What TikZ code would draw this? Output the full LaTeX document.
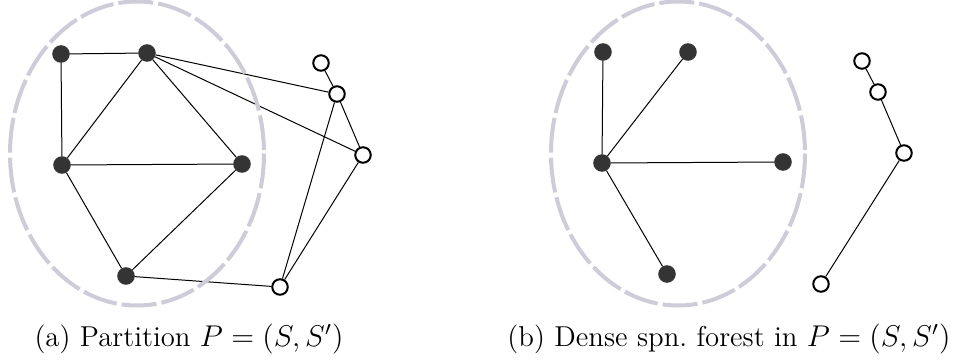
\documentclass[tikz,border=0pt]{standalone}
\usepackage{amssymb}
\usepackage{pgf, tikz}
\pgfdeclarelayer{edgelayer}
\pgfdeclarelayer{nodelayer}
\pgfsetlayers{edgelayer,nodelayer,main}
\definecolor{partgray}{RGB}{206,204,216}
\definecolor{dotgray}{RGB}{52,52,52}
\tikzstyle{edge}=[draw=black, line width=0.4pt]
\tikzstyle{vertex}=[circle, fill=dotgray, draw=dotgray, inner sep=0pt, minimum size=6.6pt]
\tikzstyle{open vertex}=[circle, fill=white, draw=black, line width=0.8pt, inner sep=0pt, minimum size=6.2pt]
\tikzstyle{part}=[draw=partgray, line width=1.6pt, dash pattern=on 14pt off 2pt]
\tikzstyle{caption}=[anchor=base, font=\fontsize{11.5}{14}\selectfont]

\begin{document}
\begin{tikzpicture}[x=0.4pt, y=-0.4pt]
				\useasboundingbox (0, 0) rectangle (961, 360);
				% partitions
				\draw [style=part] (137, 153.5) ellipse (127 and 152);
				\draw [style=part] (678, 153.5) ellipse (127 and 152);
				\begin{pgfonlayer}{nodelayer}
					% (a)
					\node [style=vertex] (1) at (61, 54) {};
					\node [style=vertex] (2) at (147, 53) {};
					\node [style=vertex] (3) at (62, 165) {};
					\node [style=vertex] (4) at (242, 164) {};
					\node [style=vertex] (5) at (126, 276) {};
					\node [style=open vertex] (6) at (321, 63) {};
					\node [style=open vertex] (7) at (337, 94) {};
					\node [style=open vertex] (8) at (363, 155) {};
					\node [style=open vertex] (9) at (280, 287) {};
					% (b)
					\node [style=vertex] (11) at (603, 52) {};
					\node [style=vertex] (12) at (688, 52) {};
					\node [style=vertex] (13) at (602, 163) {};
					\node [style=vertex] (14) at (783, 162) {};
					\node [style=vertex] (15) at (667, 274) {};
					\node [style=open vertex] (16) at (862, 61) {};
					\node [style=open vertex] (17) at (878, 92) {};
					\node [style=open vertex] (18) at (904, 153) {};
					\node [style=open vertex] (19) at (821, 284) {};
					% captions
					\node [style=caption] (capa) at (189, 346) {(a) Partition $P=(S,S')$};
					\node [style=caption] (capb) at (729, 346) {(b) Dense spn.\ forest in $P=(S,S')$};
				\end{pgfonlayer}
				\begin{pgfonlayer}{edgelayer}
					\draw [style=edge] (1) to (2);
					\draw [style=edge] (1) to (3);
					\draw [style=edge] (2) to (3);
					\draw [style=edge] (2) to (4);
					\draw [style=edge] (2) to (7);
					\draw [style=edge] (2) to (8);
					\draw [style=edge] (3) to (4);
					\draw [style=edge] (3) to (5);
					\draw [style=edge] (4) to (5);
					\draw [style=edge] (5) to (9);
					\draw [style=edge] (6) to (7);
					\draw [style=edge] (7) to (8);
					\draw [style=edge] (7) to (9);
					\draw [style=edge] (8) to (9);
					\draw [style=edge] (11) to (13);
					\draw [style=edge] (12) to (13);
					\draw [style=edge] (13) to (14);
					\draw [style=edge] (13) to (15);
					\draw [style=edge] (16) to (17);
					\draw [style=edge] (17) to (18);
					\draw [style=edge] (18) to (19);
				\end{pgfonlayer}
			\end{tikzpicture}
\end{document}
